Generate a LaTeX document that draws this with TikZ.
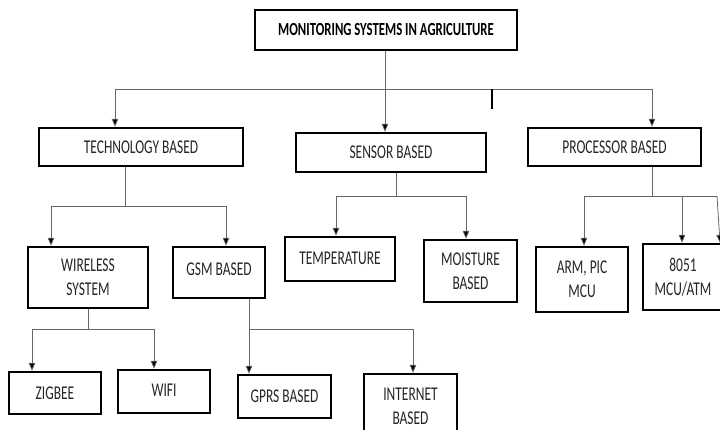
\documentclass[tikz,border=0pt]{standalone}
\usepackage{fontspec}
\setmainfont{Carlito}[FakeStretch=0.69]
\usetikzlibrary{arrows.meta}
\tikzset{
  box/.style={draw=black, line width=2.4pt, fill=white, align=center, inner sep=0pt,
    font=\fontsize{19.5}{24}\selectfont, text=black!85},
  conn/.style={draw=black!60, line width=0.8pt},
  arr/.style={conn, -{Triangle[length=8pt,width=6.5pt,fill=black]}},
}
\begin{document}
\begin{tikzpicture}[x=1pt,y=-1pt]
\useasboundingbox (0,0) rectangle (720,430);
\clip (0,0) rectangle (720,430);
% boxes
\node[box, minimum width=262pt, minimum height=40pt, font=\fontsize{18.5}{22}\selectfont\bfseries, text=black] (root) at (386,30) {MONITORING SYSTEMS IN AGRICULTURE};
\node[box, minimum width=204pt, minimum height=38pt] (tech) at (141,147) {TECHNOLOGY BASED};
\node[box, minimum width=190pt, minimum height=39pt] (sensor) at (391,152.5) {SENSOR BASED};
\node[box, minimum width=173pt, minimum height=38pt] (proc) at (614.5,147) {PROCESSOR BASED};
\node[box, minimum width=120pt, minimum height=61pt] (wireless) at (88,277.5) {WIRELESS\\SYSTEM};
\node[box, minimum width=92pt, minimum height=51pt] (gsm) at (219,272.5) {\raisebox{6pt}{GSM BASED}};
\node[box, minimum width=110pt, minimum height=44pt] (temp) at (340,259) {\raisebox{2pt}{TEMPERATURE}};
\node[box, minimum width=93pt, minimum height=62pt] (moist) at (470.5,271) {MOISTURE\\BASED};
\node[box, minimum width=92pt, minimum height=65pt] (arm) at (582,279.5) {ARM, PIC\\MCU};
\node[box, minimum width=80pt, minimum height=66pt] (i8051) at (683,277) {8051\\MCU/ATM};
\node[box, minimum width=92pt, minimum height=42pt] (zigbee) at (55,393) {ZIGBEE};
\node[box, minimum width=92pt, minimum height=43pt] (wifi) at (164,391.5) {\raisebox{2pt}{WIFI}};
\node[box, minimum width=93pt, minimum height=43pt] (gprs) at (284.5,396.5) {GPRS BASED};
\node[box, minimum width=93pt, minimum height=64pt] (internet) at (410.5,406) {INTERNET\\BASED};
% level 1
\coordinate (b0) at (385,89);
\coordinate (tick) at (492,109);
\draw[conn] (root.south -| b0) -- (b0);
\draw[arr] (b0) -| ([xshift=-26pt]tech.north);
\draw[arr] (b0) -- (sensor.north -| b0);
\draw[arr] (b0) -| ([xshift=37.5pt]proc.north);
\draw[black, line width=1.3pt] (tick |- b0) -- (tick);
% technology
\coordinate (b1) at (125,206);
\draw[conn] (tech.south -| b1) -- (b1);
\draw[arr] (b1) -| ([xshift=-37pt]wireless.north);
\draw[arr] (b1) -| ([xshift=7pt]gsm.north);
% wireless
\coordinate (b2) at (88,329);
\draw[conn] (wireless.south -| b2) -- (b2);
\draw[arr] (b2) -| ([xshift=-23pt]zigbee.north);
\draw[arr] (b2) -| ([xshift=-10pt]wifi.north);
% gsm
\coordinate (b3) at (249,329);
\draw[arr] (gsm.south -| b3) -- (gprs.north -| b3);
\draw[arr] (b3) -| ([xshift=2.5pt]internet.north);
% sensor
\coordinate (b4) at (396,196);
\draw[conn] (sensor.south -| b4) -- (b4);
\draw[arr] (b4) -| ([xshift=-4pt]temp.north);
\draw[arr] (b4) -| ([xshift=-4.5pt]moist.north);
% processor
\coordinate (b5) at (652,196);
\coordinate (b6) at (717,196);
\draw[conn] (proc.south -| b5) -- (b5);
\draw[arr] (b5) -| ([xshift=2pt]arm.north);
\draw[arr] (b5) -| ([xshift=-1pt]i8051.north);
\draw[conn] (b5) -- (b6);
\draw[arr] (b6) -- ([xshift=37pt]i8051.north);
\end{tikzpicture}
\end{document}
